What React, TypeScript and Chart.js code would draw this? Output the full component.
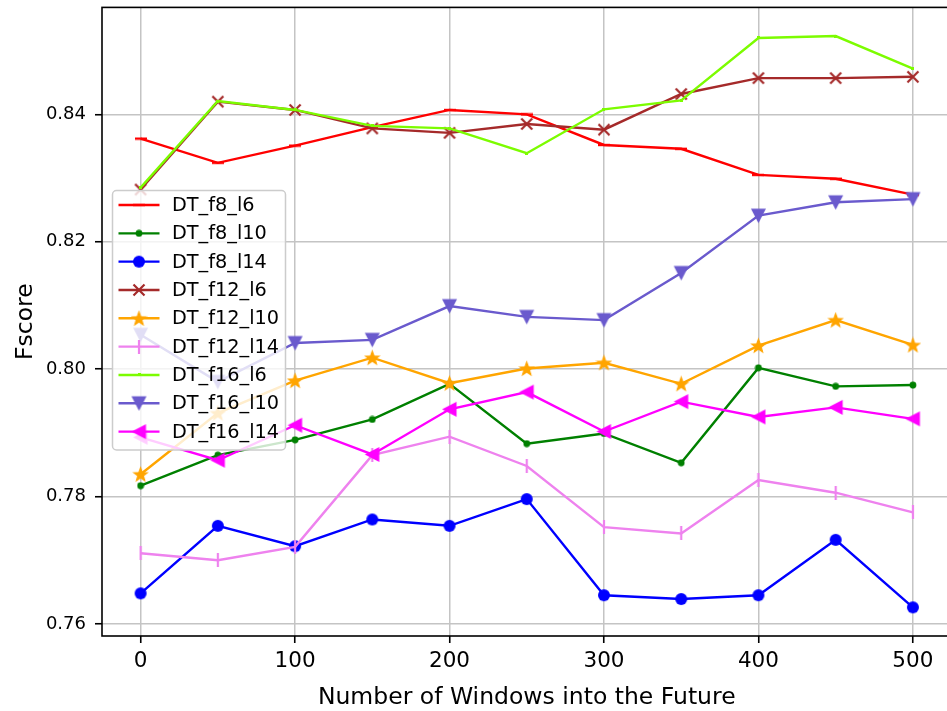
import React, { useEffect, useRef } from 'react';
import { Chart, registerables } from 'chart.js';

Chart.register(...registerables);

// Forecast horizon (number of windows ahead)
const windows = [0, 50, 100, 150, 200, 250, 300, 350, 400, 450, 500];
const xTickValues = [0, 100, 200, 300, 400, 500];
const yTickValues = [0.76, 0.78, 0.8, 0.82, 0.84];

const seriesNames = [
  'DT_f8_l6', 'DT_f8_l10', 'DT_f8_l14',
  'DT_f12_l6', 'DT_f12_l10', 'DT_f12_l14',
  'DT_f16_l6', 'DT_f16_l10', 'DT_f16_l14',
];

const f8_l6 = [0.8362, 0.8324, 0.8351, 0.8380, 0.8407, 0.8400, 0.8352, 0.8346, 0.8305, 0.8299, 0.8274];
const f8_l10 = [0.7817, 0.7865, 0.7889, 0.7921, 0.7977, 0.7883, 0.7899, 0.7853, 0.8002, 0.7973, 0.7975];
const f8_l14 = [0.7648, 0.7754, 0.7722, 0.7764, 0.7754, 0.7796, 0.7645, 0.7639, 0.7645, 0.7732, 0.7626];
const f12_l6 = [0.8282, 0.8420, 0.8407, 0.8378, 0.8371, 0.8385, 0.8376, 0.8432, 0.8457, 0.8457, 0.8459];
const f12_l10 = [0.7835, 0.7931, 0.7982, 0.8018, 0.7978, 0.8001, 0.8010, 0.7977, 0.8037, 0.8077, 0.8038];
const f12_l14 = [0.7711, 0.7700, 0.7721, 0.7865, 0.7894, 0.7848, 0.7752, 0.7742, 0.7826, 0.7806, 0.7775];
const f16_l6 = [0.8285, 0.8421, 0.8407, 0.8382, 0.8378, 0.8339, 0.8408, 0.8422, 0.8520, 0.8523, 0.8472];
const f16_l10 = [0.8054, 0.7980, 0.8041, 0.8046, 0.8099, 0.8082, 0.8077, 0.8151, 0.8241, 0.8262, 0.8267];
const f16_l14 = [0.7893, 0.7857, 0.7912, 0.7866, 0.7937, 0.7964, 0.7902, 0.7949, 0.7925, 0.7940, 0.7922];

const seriesValues = [f8_l6, f8_l10, f8_l14, f12_l6, f12_l10, f12_l14, f16_l6, f16_l10, f16_l14];
const seriesColors = [
  '#ff0000', '#008000', '#0000ff',
  '#a52a2a', '#ffa500', '#ee82ee',
  '#7cfc00', '#6a5acd', '#ff00ff',
];
const seriesMarkers = ['hline', 'dot', 'circle', 'x', 'star', 'vline', 'pixel', 'tridown', 'trileft'];

const FONT = '"DejaVu Sans", sans-serif';

function makeMarker(kind: string, color: string): HTMLCanvasElement {
  const c = document.createElement('canvas');
  const sizes: Record<string, [number, number]> = {
    hline: [12, 4], dot: [8, 8], circle: [14, 14], x: [14, 14], star: [17, 17],
    vline: [4, 14], pixel: [3, 3], tridown: [17, 17], trileft: [17, 17],
  };
  const [w, h] = sizes[kind];
  c.width = w;
  c.height = h;
  const ctx = c.getContext('2d')!;
  ctx.fillStyle = color;
  ctx.strokeStyle = color;
  ctx.lineWidth = 2.2;
  ctx.lineJoin = 'miter';
  const cx = w / 2;
  const cy = h / 2;
  if (kind === 'hline') {
    ctx.fillRect(0, cy - 1.2, w, 2.4);
  } else if (kind === 'vline') {
    ctx.fillRect(cx - 1.1, 0, 2.2, h);
  } else if (kind === 'pixel') {
    ctx.fillRect(0, 0, w, h);
  } else if (kind === 'dot') {
    ctx.beginPath();
    ctx.arc(cx, cy, 3.4, 0, Math.PI * 2);
    ctx.fill();
  } else if (kind === 'circle') {
    ctx.beginPath();
    ctx.arc(cx, cy, 6, 0, Math.PI * 2);
    ctx.fill();
  } else if (kind === 'x') {
    ctx.beginPath();
    ctx.moveTo(1.5, 1.5);
    ctx.lineTo(w - 1.5, h - 1.5);
    ctx.moveTo(w - 1.5, 1.5);
    ctx.lineTo(1.5, h - 1.5);
    ctx.stroke();
  } else if (kind === 'star') {
    ctx.beginPath();
    for (let i = 0; i < 10; i++) {
      const r = i % 2 === 0 ? 7 : 2.9;
      const a = -Math.PI / 2 + (i * Math.PI) / 5;
      const px = cx + r * Math.cos(a);
      const py = cy + 0.6 + r * Math.sin(a);
      if (i === 0) ctx.moveTo(px, py);
      else ctx.lineTo(px, py);
    }
    ctx.closePath();
    ctx.fill();
    ctx.lineWidth = 1.2;
    ctx.stroke();
  } else if (kind === 'tridown') {
    ctx.beginPath();
    ctx.moveTo(1, 1.5);
    ctx.lineTo(w - 1, 1.5);
    ctx.lineTo(cx, h - 1);
    ctx.closePath();
    ctx.fill();
  } else if (kind === 'trileft') {
    ctx.beginPath();
    ctx.moveTo(w - 1.5, 1);
    ctx.lineTo(w - 1.5, h - 1);
    ctx.lineTo(1, cy);
    ctx.closePath();
    ctx.fill();
  }
  return c;
}

export default function App() {
  const ref = useRef<HTMLCanvasElement>(null);

  useEffect(() => {
    document.body.style.margin = '0';
    const markers = seriesMarkers.map((m, i) => makeMarker(m, seriesColors[i]));

    const datasets = seriesNames.map((name, i) => ({
      label: name,
      data: windows.map((w, j) => ({ x: w, y: seriesValues[i][j] })),
      borderColor: seriesColors[i],
      backgroundColor: seriesColors[i],
      borderWidth: 2.4,
      pointStyle: markers[i],
      pointRadius: 5,
      pointHoverRadius: 5,
      tension: 0,
      fill: false,
      order: seriesNames.length - i,
    }));

    const framePlugin = {
      id: 'frame',
      afterDatasetsDraw(chart: any) {
        const { ctx, chartArea: a } = chart;
        ctx.save();
        ctx.strokeStyle = '#000';
        ctx.lineWidth = 1.6;
        ctx.strokeRect(a.left, a.top, a.right - a.left, a.bottom - a.top);
        ctx.restore();
      },
    };

    const legendAndTitles = {
      id: 'legendAndTitles',
      afterDraw(chart: any) {
        const { ctx, chartArea: a } = chart;
        ctx.save();
        // axis titles
        ctx.fillStyle = '#000';
        ctx.font = `23.5px ${FONT}`;
        ctx.textAlign = 'center';
        ctx.textBaseline = 'alphabetic';
        ctx.fillText('Number of Windows into the Future', (a.left + a.right) / 2, 703.5);
        ctx.save();
        ctx.translate(32, (a.top + a.bottom) / 2);
        ctx.rotate(-Math.PI / 2);
        ctx.fillText('Fscore', 0, 0);
        ctx.restore();

        // legend box
        const bx = 112.5, by = 190.5, bw = 173, bh = 259.5;
        ctx.beginPath();
        ctx.roundRect(bx, by, bw, bh, 4);
        ctx.fillStyle = 'rgba(255,255,255,0.8)';
        ctx.fill();
        ctx.strokeStyle = '#cccccc';
        ctx.lineWidth = 1.5;
        ctx.stroke();

        ctx.font = `19.3px ${FONT}`;
        ctx.textAlign = 'left';
        ctx.textBaseline = 'middle';
        seriesNames.forEach((name, i) => {
          const y = 205 + i * 28.33;
          ctx.strokeStyle = seriesColors[i];
          ctx.lineWidth = 2.4;
          ctx.beginPath();
          ctx.moveTo(118.5, y);
          ctx.lineTo(159.5, y);
          ctx.stroke();
          const m = markers[i];
          ctx.drawImage(m, 139 - m.width / 2, y - m.height / 2);
          ctx.fillStyle = '#000';
          ctx.fillText(name, 172, y + 1);
        });
        ctx.restore();
      },
    };

    const chart = new Chart(ref.current!, {
      type: 'line',
      data: { datasets },
      options: {
        animation: false,
        responsive: false,
        devicePixelRatio: 1,
        events: [],
        layout: { padding: { left: 0, right: 8.5, top: 4, bottom: 0 } },
        plugins: {
          legend: { display: false },
          tooltip: { enabled: false },
          title: { display: false },
        },
        scales: {
          x: {
            type: 'linear',
            min: -25,
            max: 525,
            afterBuildTicks: (s: any) => {
              s.ticks = xTickValues.map((v) => ({ value: v }));
            },
            afterFit: (s: any) => {
              s.height = 75;
              s.paddingLeft = 0;
              s.paddingRight = 0;
            },
            ticks: {
              color: '#000',
              font: { family: FONT, size: 21.5 },
              padding: 6,
              maxRotation: 0,
              autoSkip: false,
              callback: (v: any) => String(v),
            },
            grid: {
              color: '#c4c4c4',
              lineWidth: 1.5,
              tickColor: '#000',
              tickLength: 7,
              tickWidth: 1.6,
            },
            border: { display: false },
          },
          y: {
            type: 'linear',
            min: 0.7581,
            max: 0.8568,
            afterBuildTicks: (s: any) => {
              s.ticks = yTickValues.map((v) => ({ value: v }));
            },
            afterFit: (s: any) => {
              s.width = 102;
              s.paddingTop = 0;
              s.paddingBottom = 0;
            },
            ticks: {
              color: '#000',
              font: { family: FONT, size: 18 },
              padding: 9,
              autoSkip: false,
              callback: (v: any) => Number(v).toFixed(2),
            },
            grid: {
              color: '#c4c4c4',
              lineWidth: 1.5,
              tickColor: '#000',
              tickLength: 7,
              tickWidth: 1.6,
            },
            border: { display: false },
          },
        },
      },
      plugins: [framePlugin, legendAndTitles],
    } as any);

    return () => chart.destroy();
  }, []);

  return (
    <div style={{ width: 947, height: 711, overflow: 'hidden', background: '#fff' }}>
      <canvas ref={ref} width={960} height={711} style={{ display: 'block', width: 960, height: 711 }} />
    </div>
  );
}
